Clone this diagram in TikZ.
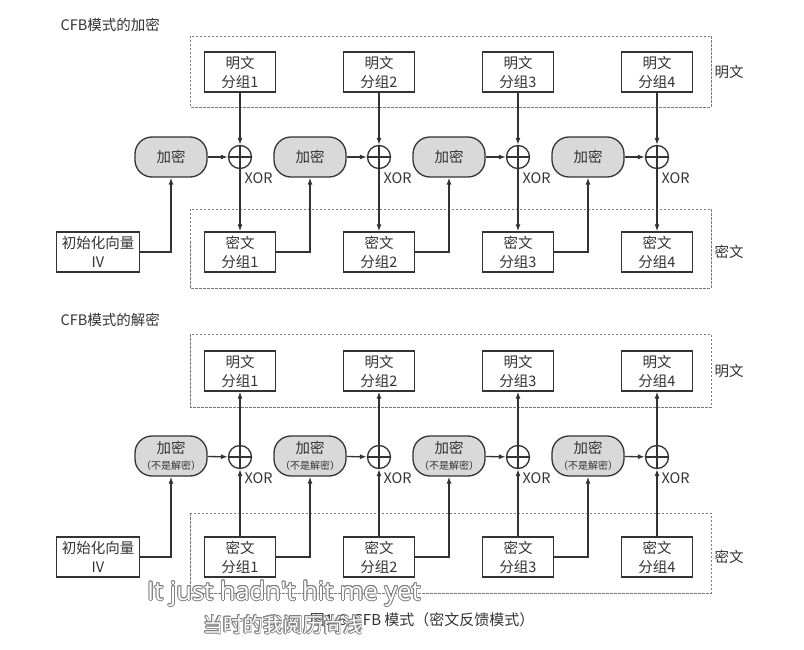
\documentclass[tikz,border=0pt]{standalone}
\usepackage{fontspec}
\setmainfont{Noto Sans CJK SC}
\newfontfamily\subfont{Open Sans}
\usepackage{contour}
\usetikzlibrary{arrows.meta,positioning}
\definecolor{ink}{HTML}{333333}
\definecolor{encfill}{HTML}{D9D9D9}
\contourlength{0.9pt}
\contournumber{12}

\begin{document}
\begin{tikzpicture}[x=1pt, y=1pt,
  font=\fontsize{14.5}{19}\selectfont, >={Latex[length=7pt,width=5pt]},
  every node/.style={text=ink},
  blk/.style={draw=ink, line width=1.3pt, align=center, minimum width=71pt, minimum height=40pt, inner sep=1pt},
  enc/.style={blk, fill=encfill, rounded corners=17pt, minimum width=72pt},
  xorc/.style={circle, draw=ink, line width=1.3pt, minimum size=23pt, inner sep=0pt,
    path picture={\draw[ink, line width=1.3pt] (path picture bounding box.north) -- (path picture bounding box.south)
      (path picture bounding box.west) -- (path picture bounding box.east);}},
  grp/.style={draw=ink!65, line width=0.6pt, dash pattern=on 2.5pt off 1.5pt},
  flow/.style={->, draw=ink, line width=1.3pt}]
\useasboundingbox (0,0) rectangle (804,-650);

% encryption
\node[anchor=west] (ttlenc) at (57,-25) {CFB模式的加密};
\draw[grp] (190,-36) rectangle (711,-107);
\draw[grp] (190,-209) rectangle (711,-288);
\node (lblp) at (729,-72) {明文};
\node (lblc) at (729,-252) {密文};
\node[blk, minimum width=83pt] (iv) at (98,-252) {初始化向量\\IV};
\foreach \i in {1,...,4} {
  \pgfmathsetmacro{\cx}{240+139*(\i-1)}
  \node[blk] (p\i) at (\cx,-72) {明文\\分组\i};
  \node[xorc] (x\i) at (\cx,-157) {};
  \node[enc] (e\i) at (\cx-69,-157) {加密};
  \node[blk] (c\i) at (\cx,-252) {密文\\分组\i};
  \node[anchor=west] (xl\i) at ([xshift=1pt,yshift=-21pt]x\i.center) {XOR};
  \draw[flow] (p\i) -- (x\i); \draw[flow] (x\i) -- (c\i); \draw[flow] (e\i) -- (x\i);
}
\draw[flow] (iv.east) -| (e1.south);
\foreach \i/\j in {1/2,2/3,3/4} {\draw[flow] (c\i.east) -| (e\j.south);}

% decryption
\node[anchor=west] (ttldec) at (57,-320) {CFB模式的解密};
\draw[grp] (190,-334) rectangle (711,-407);
\draw[grp] (190,-513) rectangle (711,-593);
\node (dlblp) at (729,-371) {明文};
\node (dlblc) at (729,-557) {密文};
\node[blk, minimum width=83pt] (div) at (98,-557) {初始化向量\\IV};
\foreach \i in {1,...,4} {
  \pgfmathsetmacro{\cx}{240+139*(\i-1)}
  \node[blk] (dp\i) at (\cx,-371) {明文\\分组\i};
  \node[xorc] (dx\i) at (\cx,-457) {};
  \node[enc, inner sep=0pt] (de\i) at (\cx-69,-456) {加密\\[-3pt]{\fontsize{10}{12}\selectfont （不是解密）}};
  \node[blk] (dc\i) at (\cx,-557) {密文\\分组\i};
  \node[anchor=west] (dxl\i) at ([xshift=1pt,yshift=-21pt]dx\i.center) {XOR};
  \draw[flow] (dc\i) -- (dx\i); \draw[flow] (dx\i) -- (dp\i); \draw[flow] (de\i) -- (dx\i);
}
\draw[flow] (div.east) -| (de1.south);
\foreach \i/\j in {1/2,2/3,3/4} {\draw[flow] (dc\i.east) -| (de\j.south);}

% caption and subtitles
\node[anchor=east, font=\fontsize{15}{18}\selectfont] (cap) at (538,-620) {图1-6\ \ CFB 模式（密文反馈模式）};
\node[text=white, font=\subfont\fontsize{25.5}{28}\selectfont] (sub1) at (284,-594) {\contour{gray}{It just hadn\textquotesingle t hit me yet}};
\node[text=white, font=\fontsize{20}{24}\selectfont] (sub2) at (283,-625) {\contour{gray}{当时的我阅历尚浅}};
\end{tikzpicture}
\end{document}
